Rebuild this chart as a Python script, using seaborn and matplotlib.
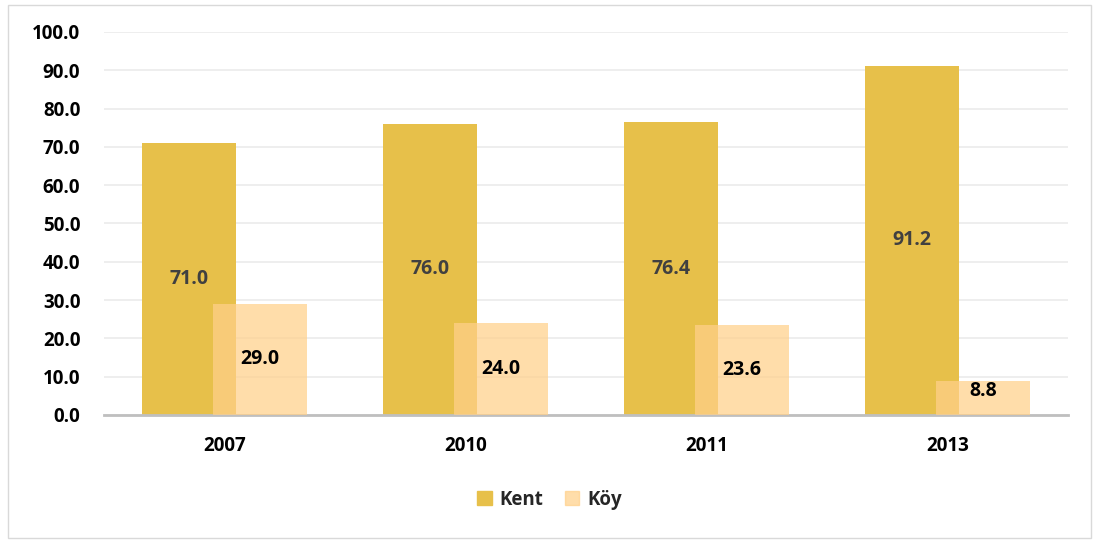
import matplotlib
matplotlib.use("Agg")
import matplotlib.pyplot as plt
import seaborn as sns
import pandas as pd
from matplotlib.patches import Rectangle

years = ["2007", "2010", "2011", "2013"]
kent = [71.0, 76.0, 76.4, 91.2]
koy = [29.0, 24.0, 23.6, 8.8]
series = ["Kent", "Köy"]
colors = {"Kent": "#E7C04A", "Köy": "#FFD08A"}

rows = []
for i, year in enumerate(years):
    rows.append({"year": year, "group": "Kent", "value": kent[i]})
    rows.append({"year": year, "group": "Köy", "value": koy[i]})
df = pd.DataFrame(rows)

sns.set_style("white")
plt.rcParams["font.family"] = ["Open Sans", "DejaVu Sans"]

fig = plt.figure(figsize=(10.99, 5.41), dpi=100)
ax = fig.add_axes([0.0946, 0.233, 0.877, 0.708])

sns.barplot(data=df, x="year", y="value", hue="group", hue_order=series,
            palette=colors, width=0.78, dodge=True, ax=ax, legend=False,
            saturation=1, errorbar=None, linewidth=0)

# pull the two bars together so they overlap like the original
shift = 0.047
n = len(years)
kent_bars = ax.patches[:n]
koy_bars = ax.patches[n:2 * n]
for p in kent_bars:
    p.set_x(p.get_x() + shift)
    p.set_zorder(2)
for p in koy_bars:
    p.set_x(p.get_x() - shift)
    p.set_alpha(0.72)
    p.set_zorder(3)

for p, v in zip(kent_bars, kent):
    ax.text(p.get_x() + p.get_width() / 2, v / 2, f"{v:.1f}", ha="center", va="center",
            fontsize=14, fontweight="bold", color="#404040", zorder=5)
for p, v in zip(koy_bars, koy):
    ax.text(p.get_x() + p.get_width() / 2, max(v / 2, 6.3), f"{v:.1f}", ha="center", va="center",
            fontsize=14, fontweight="bold", color="black", zorder=5)

ax.set_ylim(0, 100)
ax.set_xlim(-0.5, n - 0.5)
ax.set_yticks(range(0, 101, 10))
ax.set_yticklabels([f"{t:.1f}" for t in range(0, 101, 10)])
ax.yaxis.grid(True, color="#EBEBEB", linewidth=1.2)
ax.set_axisbelow(True)
ax.set_xlabel("")
ax.set_ylabel("")
for s in ["top", "right", "left"]:
    ax.spines[s].set_visible(False)
ax.spines["bottom"].set_color("#BFBFBF")
ax.spines["bottom"].set_linewidth(2)
ax.tick_params(axis="both", length=0, labelsize=13.5, colors="black")
ax.tick_params(axis="y", pad=17)
ax.tick_params(axis="x", pad=15)
for lbl in ax.get_xticklabels() + ax.get_yticklabels():
    lbl.set_fontweight("bold")

handles = [Rectangle((0, 0), 1, 1, color=colors["Kent"]),
           Rectangle((0, 0), 1, 1, color=colors["Köy"], alpha=0.72)]
fig.legend(handles, series, loc="center", bbox_to_anchor=(0.5, 0.076), ncol=2, frameon=False,
           prop={"weight": "bold", "size": 13.5}, handlelength=0.75, handleheight=0.75,
           handletextpad=0.4, columnspacing=1.2)

fig.patches.append(Rectangle((0.007, 0.006), 0.986, 0.985, transform=fig.transFigure,
                             fill=False, edgecolor="#D9D9D9", linewidth=1))

fig.savefig("out.png", dpi=100, facecolor="white")
